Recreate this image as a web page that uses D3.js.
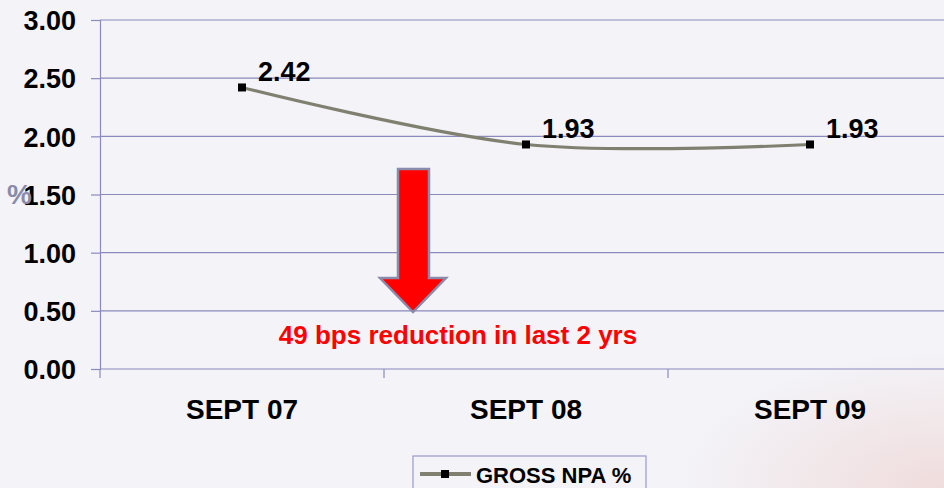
<!DOCTYPE html>
<html>
<head>
<meta charset="utf-8">
<script src="https://cdn.jsdelivr.net/npm/d3@7"></script>
<style>
  body { margin: 0; background: #f3f3f8; }
  svg { display: block; font-family: "Liberation Sans", Arial, sans-serif; font-weight: bold; }
</style>
</head>
<body>
<div id="chart"></div>
<script>
// chart data
const categories = ["SEPT 07", "SEPT 08", "SEPT 09"];
const grossNpa = [2.42, 1.93, 1.93];
const yTicks = [0, 0.5, 1, 1.5, 2, 2.5, 3];
const seriesName = "GROSS NPA %";
const note = "49 bps reduction in last 2 yrs";

const width = 944;
const height = 488;
const gridColor = "#8a8abb";

const svg = d3.select("#chart")
    .append("svg")
    .attr("width", width)
    .attr("height", height);

// faint pinkish shade bottom right
const defs = svg.append("defs");
const grad = defs.append("radialGradient")
    .attr("id", "shade")
    .attr("cx", "100%").attr("cy", "100%").attr("r", "28%");
grad.append("stop").attr("offset", "0%").attr("stop-color", "#f0dcdc");
grad.append("stop").attr("offset", "100%").attr("stop-color", "#f3f3f8");
svg.append("rect").attr("width", width).attr("height", height).attr("fill", "url(#shade)");

const x = d3.scaleBand()
    .domain(categories)
    .range([100, 952]);

const y = d3.scaleLinear()
    .domain([0, 3])
    .range([369, 20]);

// horizontal gridlines
svg.append("g")
    .selectAll("line")
    .data(yTicks.filter(d => d > 0))
    .join("line")
    .attr("x1", 100)
    .attr("x2", width)
    .attr("y1", d => y(d))
    .attr("y2", d => y(d))
    .attr("stroke", gridColor)
    .attr("stroke-width", 1.2);

// y axis
const yAxis = svg.append("g")
    .attr("transform", "translate(100,0)")
    .call(d3.axisLeft(y).tickValues(yTicks).tickFormat(d3.format(".2f")).tickSize(9).tickPadding(15));
yAxis.select(".domain").attr("stroke", gridColor).attr("stroke-width", 1.2);
yAxis.selectAll(".tick line").attr("stroke", gridColor).attr("stroke-width", 1.2);
yAxis.selectAll(".tick text")
    .attr("fill", "#000")
    .attr("dy", "0.36em")
    .style("font-size", "27px")
    .style("font-family", "Liberation Sans, Arial, sans-serif")
    .style("font-weight", "bold");

// x axis
const xAxis = svg.append("g")
    .attr("transform", "translate(0,369)")
    .call(d3.axisBottom(x).tickSize(0).tickPadding(30));
xAxis.select(".domain").attr("stroke", gridColor).attr("stroke-width", 1.2).attr("d", `M100,0H${width}`);
xAxis.selectAll(".tick text")
    .attr("fill", "#000")
    .style("font-size", "28px")
    .style("font-family", "Liberation Sans, Arial, sans-serif")
    .style("font-weight", "bold");

// category separators on x axis
svg.append("g")
    .selectAll("line")
    .data(categories)
    .join("line")
    .attr("x1", d => x(d))
    .attr("x2", d => x(d))
    .attr("y1", 369)
    .attr("y2", 378)
    .attr("stroke", gridColor)
    .attr("stroke-width", 1.2);

// "%" axis title
svg.append("text")
    .attr("x", 7)
    .attr("y", 204)
    .attr("fill", "#8a8aaa")
    .style("font-size", "28px")
    .text("%");

// smoothed line
const line = d3.line()
    .x((d, i) => x(categories[i]) + x.bandwidth() / 2)
    .y(d => y(d))
    .curve(d3.curveCardinal.tension(0));

svg.append("path")
    .datum(grossNpa)
    .attr("d", line)
    .attr("fill", "none")
    .attr("stroke", "#808070")
    .attr("stroke-width", 3.2);

svg.append("g")
    .selectAll("rect")
    .data(grossNpa)
    .join("rect")
    .attr("x", (d, i) => x(categories[i]) + x.bandwidth() / 2 - 4)
    .attr("y", d => y(d) - 4)
    .attr("width", 8)
    .attr("height", 8)
    .attr("fill", "#000");

svg.append("g")
    .selectAll("text")
    .data(grossNpa)
    .join("text")
    .attr("x", (d, i) => x(categories[i]) + x.bandwidth() / 2 + 16)
    .attr("y", d => y(d) - 6)
    .attr("fill", "#000")
    .style("font-size", "27px")
    .text(d => d3.format(".2f")(d));

// red arrow
svg.append("path")
    .attr("d", "M398,169 L429,169 L429,278 L446,278 L413,312 L380,278 L398,278 Z")
    .attr("fill", "#ff0000")
    .attr("stroke", "#8a8aaa")
    .attr("stroke-width", 2.5)
    .attr("stroke-linejoin", "miter");

svg.append("text")
    .attr("x", 458)
    .attr("y", 344)
    .attr("text-anchor", "middle")
    .attr("fill", "#ff0000")
    .style("font-size", "26px")
    .text(note);

// legend
const legend = svg.append("g").attr("transform", "translate(413,456)");
legend.append("rect")
    .attr("width", 233)
    .attr("height", 40)
    .attr("fill", "#f3f3f8")
    .attr("stroke", "#9999cc")
    .attr("stroke-width", 1.2);
legend.append("line")
    .attr("x1", 7).attr("x2", 58)
    .attr("y1", 18).attr("y2", 18)
    .attr("stroke", "#808070")
    .attr("stroke-width", 4);
legend.append("rect")
    .attr("x", 28).attr("y", 14)
    .attr("width", 8).attr("height", 8)
    .attr("fill", "#000");
legend.append("text")
    .attr("x", 63)
    .attr("y", 27)
    .attr("fill", "#000")
    .style("font-size", "22px")
    .text(seriesName);
</script>
</body>
</html>
